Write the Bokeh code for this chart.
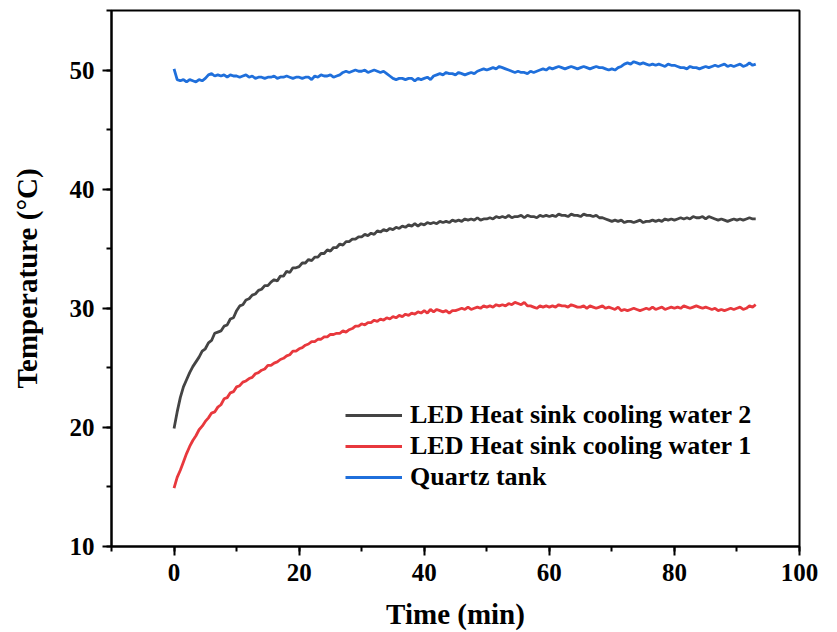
from bokeh.plotting import figure
from bokeh.models import Range1d, SingleIntervalTicker, Legend, LegendItem
from bokeh.embed import file_html
from bokeh.resources import INLINE

# sample times (min), one reading every 0.5 min
time_min = [i * 0.5 for i in range(187)]

led_water_2 = [
    19.9, 21.3, 22.5, 23.4, 24.0, 24.6, 25.1, 25.5, 25.9, 26.4,
    26.6, 27.1, 27.3, 27.9, 28.0, 28.1, 28.5, 28.6, 29.1, 29.2,
    29.8, 30.2, 30.3, 30.7, 30.8, 31.1, 31.2, 31.5, 31.6, 31.9,
    31.9, 32.2, 32.4, 32.3, 32.7, 32.7, 33.1, 33.0, 33.4, 33.4,
    33.5, 33.8, 33.8, 34.1, 34.0, 34.3, 34.3, 34.6, 34.6, 34.9,
    34.8, 35.1, 35.1, 35.4, 35.3, 35.6, 35.6, 35.8, 35.8, 36.0,
    36.0, 36.2, 36.1, 36.3, 36.2, 36.5, 36.4, 36.6, 36.5, 36.7,
    36.6, 36.8, 36.7, 36.9, 36.8, 37.0, 36.9, 37.1, 36.9, 37.1,
    37.0, 37.2, 37.1, 37.2, 37.1, 37.3, 37.2, 37.3, 37.2, 37.4,
    37.3, 37.4, 37.3, 37.5, 37.4, 37.5, 37.4, 37.6, 37.4, 37.5,
    37.5, 37.6, 37.5, 37.7, 37.6, 37.7, 37.6, 37.8, 37.6, 37.7,
    37.7, 37.8, 37.6, 37.8, 37.7, 37.7, 37.6, 37.8, 37.7, 37.8,
    37.7, 37.8, 37.7, 37.9, 37.8, 37.8, 37.7, 37.9, 37.8, 37.8,
    37.7, 37.9, 37.8, 37.8, 37.7, 37.8, 37.6, 37.6, 37.5, 37.4,
    37.3, 37.4, 37.3, 37.4, 37.2, 37.3, 37.3, 37.2, 37.3, 37.4,
    37.2, 37.3, 37.3, 37.4, 37.3, 37.4, 37.3, 37.5, 37.4, 37.5,
    37.4, 37.5, 37.6, 37.5, 37.6, 37.5, 37.7, 37.6, 37.6, 37.7,
    37.5, 37.7, 37.6, 37.5, 37.4, 37.5, 37.4, 37.3, 37.4, 37.5,
    37.4, 37.5, 37.4, 37.5, 37.6, 37.5, 37.5,
]

led_water_1 = [
    14.9, 15.8, 16.4, 17.1, 17.8, 18.4, 18.9, 19.3, 19.8, 20.1,
    20.5, 20.8, 21.2, 21.3, 21.7, 21.9, 22.4, 22.5, 22.9, 23.0,
    23.4, 23.5, 23.8, 23.9, 24.1, 24.2, 24.5, 24.6, 24.8, 24.9,
    25.2, 25.2, 25.4, 25.5, 25.7, 25.8, 26.0, 26.1, 26.4, 26.4,
    26.6, 26.7, 26.9, 27.0, 27.2, 27.2, 27.4, 27.4, 27.6, 27.6,
    27.8, 27.8, 27.9, 27.9, 28.1, 28.0, 28.2, 28.3, 28.5, 28.5,
    28.7, 28.6, 28.8, 28.8, 29.0, 28.9, 29.1, 29.0, 29.2, 29.1,
    29.3, 29.2, 29.4, 29.3, 29.5, 29.4, 29.6, 29.5, 29.7, 29.6,
    29.8, 29.6, 29.9, 29.7, 29.9, 29.8, 29.7, 29.8, 29.6, 29.8,
    29.8, 29.9, 30.0, 29.9, 30.1, 29.9, 30.0, 30.1, 30.0, 30.2,
    30.1, 30.2, 30.1, 30.3, 30.2, 30.3, 30.2, 30.4, 30.3, 30.5,
    30.4, 30.3, 30.5, 30.2, 30.2, 30.1, 30.0, 30.2, 30.1, 30.2,
    30.1, 30.2, 30.1, 30.3, 30.2, 30.2, 30.1, 30.3, 30.2, 30.1,
    30.1, 30.2, 30.0, 30.2, 30.1, 30.0, 30.1, 30.2, 30.0, 30.1,
    30.0, 29.9, 30.1, 29.8, 29.9, 29.8, 29.9, 30.0, 29.9, 29.8,
    29.9, 30.0, 29.9, 30.1, 29.9, 30.0, 30.1, 29.9, 30.0, 30.1,
    30.0, 30.1, 30.0, 30.2, 30.1, 30.0, 30.1, 30.2, 30.1, 30.0,
    30.1, 30.0, 29.9, 30.0, 29.8, 29.9, 29.8, 29.9, 30.0, 29.9,
    30.0, 30.1, 29.9, 30.0, 30.2, 30.1, 30.3,
]

quartz_tank = [
    50.1, 49.2, 49.1, 49.2, 49.0, 49.2, 49.1, 49.0, 49.2, 49.1,
    49.3, 49.6, 49.7, 49.5, 49.6, 49.5, 49.6, 49.4, 49.6, 49.5,
    49.5, 49.4, 49.5, 49.6, 49.4, 49.5, 49.3, 49.4, 49.4, 49.3,
    49.4, 49.4, 49.5, 49.3, 49.4, 49.4, 49.5, 49.4, 49.3, 49.4,
    49.4, 49.3, 49.4, 49.4, 49.2, 49.5, 49.4, 49.6, 49.5, 49.5,
    49.6, 49.4, 49.5, 49.6, 49.8, 49.9, 49.8, 49.9, 50.0, 49.9,
    49.9, 50.0, 49.8, 49.9, 50.0, 49.9, 49.8, 49.9, 49.7, 49.5,
    49.3, 49.2, 49.3, 49.3, 49.2, 49.3, 49.3, 49.1, 49.3, 49.2,
    49.3, 49.4, 49.2, 49.5, 49.6, 49.7, 49.6, 49.8, 49.7, 49.7,
    49.6, 49.8, 49.7, 49.6, 49.7, 49.8, 49.7, 49.9, 50.0, 50.1,
    50.0, 50.1, 50.2, 50.1, 50.3, 50.2, 50.1, 50.0, 49.9, 49.8,
    49.9, 49.8, 49.8, 49.7, 49.9, 49.8, 49.9, 50.0, 50.1, 50.0,
    50.2, 50.1, 50.2, 50.3, 50.2, 50.1, 50.2, 50.3, 50.2, 50.1,
    50.2, 50.3, 50.2, 50.1, 50.2, 50.3, 50.2, 50.2, 50.1, 50.0,
    50.1, 50.0, 50.2, 50.3, 50.5, 50.6, 50.5, 50.7, 50.6, 50.5,
    50.6, 50.5, 50.4, 50.5, 50.4, 50.5, 50.4, 50.3, 50.5, 50.4,
    50.4, 50.3, 50.2, 50.2, 50.1, 50.3, 50.2, 50.2, 50.1, 50.2,
    50.3, 50.2, 50.3, 50.4, 50.3, 50.4, 50.5, 50.3, 50.4, 50.3,
    50.4, 50.5, 50.3, 50.4, 50.6, 50.4, 50.5,
]

series_names = ["LED Heat sink cooling water 2", "LED Heat sink cooling water 1", "Quartz tank"]
series_colors = ["#444444", "#e8383d", "#1f6fdb"]

FONT = "Liberation Serif"

p = figure(width=837, height=632, output_backend="svg", toolbar_location=None,
           x_range=Range1d(-10, 100), y_range=Range1d(10, 55))
p.min_border_left = 111
p.min_border_right = 38
p.min_border_top = 10
p.min_border_bottom = 86
p.background_fill_color = "white"
p.border_fill_color = "white"
p.outline_line_color = "black"
p.outline_line_width = 2
p.xgrid.visible = False
p.ygrid.visible = False

p.xaxis.ticker = SingleIntervalTicker(interval=20, num_minor_ticks=2)
p.yaxis.ticker = SingleIntervalTicker(interval=10, num_minor_ticks=2)

for ax in (p.xaxis[0], p.yaxis[0]):
    ax.axis_line_width = 2
    ax.axis_line_color = "black"
    ax.major_tick_line_width = 2
    ax.minor_tick_line_width = 2
    ax.major_tick_in = 0
    ax.major_tick_out = 9
    ax.minor_tick_in = 0
    ax.minor_tick_out = 5
    ax.major_label_text_font = FONT
    ax.major_label_text_font_style = "bold"
    ax.major_label_text_font_size = "25px"
    ax.major_label_text_color = "black"
    ax.axis_label_text_font = FONT
    ax.axis_label_text_font_style = "bold"
    ax.axis_label_text_font_size = "29px"
    ax.axis_label_text_color = "black"
    ax.major_label_standoff = 8

p.xaxis.axis_label = "Time (min)"
p.yaxis.axis_label = "Temperature (°C)"
p.xaxis.axis_label_standoff = 14
p.yaxis.axis_label_standoff = 24

renderers = []
for ys, col in zip([led_water_2, led_water_1, quartz_tank], series_colors):
    r = p.line(time_min, ys, line_color=col, line_width=2.8)
    renderers.append(r)

legend = Legend(items=[LegendItem(label=n, renderers=[r]) for n, r in zip(series_names, renderers)])
legend.location = (234, 54)
legend.border_line_color = None
legend.background_fill_alpha = 0
legend.padding = 0
legend.margin = 0
legend.spacing = 1
legend.glyph_width = 57
legend.glyph_height = 30
legend.label_height = 30
legend.label_standoff = 8
legend.label_text_font = FONT
legend.label_text_font_style = "bold"
legend.label_text_font_size = "26px"
legend.label_text_color = "black"
p.add_layout(legend, "center")

open("out.html", "w").write(file_html(p, INLINE))
